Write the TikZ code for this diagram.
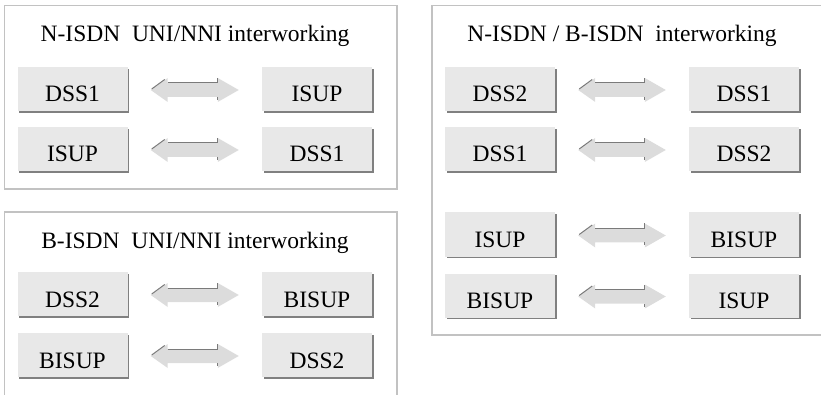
\documentclass[tikz,border=0pt]{standalone}
\usepackage{fontspec}
\setmainfont{Liberation Serif}
\usetikzlibrary{calc,shadows}
\definecolor{framegray}{HTML}{C2C2C2}
\definecolor{boxfill}{HTML}{E8E8E8}
\definecolor{boxshadow}{HTML}{808080}
\definecolor{arrowfill}{HTML}{DCDCDC}
\definecolor{arrowdark}{HTML}{7A7A7A}
\tikzset{
  frameline/.style={draw=framegray, line width=1.1pt},
  protobox/.style={rectangle, fill=boxfill, minimum width=110pt, minimum height=44pt,
     inner sep=0pt, text height=28pt, text depth=2pt,
     font=\fontsize{23.5}{27}\selectfont,
     drop shadow={shadow xshift=1.8pt, shadow yshift=-1.8pt, fill=boxshadow, opacity=1}},
  titletext/.style={anchor=base, inner sep=0pt, font=\fontsize{23.5}{27}\selectfont},
  arrfill/.style={fill=arrowfill},
  arrdark/.style={draw=arrowdark, line width=1pt}
}
\newcommand\dblarr[2]{%
  \coordinate (L) at ($(#1.east)+(23,1)$);
  \coordinate (R) at ($(#2.west)+(-23,1)$);
  \fill[arrfill] (L) -- ++(17,-12) -- ++(0,5) -- ($(R)+(-21,-7)$) -- ++(0,-5) -- (R)
     -- ++(-21,12) -- ++(0,-5) -- ($(L)+(17,7)$) -- ++(0,5) -- cycle;
  \draw[arrdark] ($(L)+(1,-1)$) -- ++(13,-9.5);
  \draw[arrdark] ($(L)+(17,-7)$) -- ($(R)+(-21,-7)$) -- ++(0,-5);
  \draw[arrdark] ($(R)+(-21,7)$) -- ++(0,3);
}
\begin{document}
\begin{tikzpicture}[x=1pt,y=-1pt]
\useasboundingbox (0,0) rectangle (821,395);
\clip (0,0) rectangle (821,395);
% frames
\draw[frameline] (4.5,5.5) rectangle (397,189);
\draw[frameline] (4.5,212) rectangle (397,405);
\draw[frameline] (432,5.5) rectangle (835,335);
% titles
\node[titletext] (t1) at (195,42) {N-ISDN~~UNI/NNI interworking};
\node[titletext] (t2) at (195,248) {B-ISDN~~UNI/NNI interworking};
\node[titletext] (t3) at (622,42) {N-ISDN / B-ISDN~~interworking};
% frame 1
\node[protobox] (a1) at (72.5,89) {DSS1};
\node[protobox] (b1) at (317,89) {ISUP};
\node[protobox] (a2) at (72.5,149) {ISUP};
\node[protobox] (b2) at (317,149) {DSS1};
% frame 2
\node[protobox] (c1) at (72.5,294) {DSS2};
\node[protobox] (d1) at (317,294) {BISUP};
\node[protobox] (c2) at (72.5,355) {BISUP};
\node[protobox] (d2) at (317,355) {DSS2};
% frame 3
\node[protobox] (e1) at (500,89) {DSS2};
\node[protobox] (f1) at (744,89) {DSS1};
\node[protobox] (e2) at (500,149) {DSS1};
\node[protobox] (f2) at (744,149) {DSS2};
\node[protobox] (e3) at (500,234.5) {ISUP};
\node[protobox] (f3) at (744,234.5) {BISUP};
\node[protobox] (e4) at (500,295.5) {BISUP};
\node[protobox] (f4) at (744,295.5) {ISUP};
% arrows
\dblarr{a1}{b1}
\dblarr{a2}{b2}
\dblarr{c1}{d1}
\dblarr{c2}{d2}
\dblarr{e1}{f1}
\dblarr{e2}{f2}
\dblarr{e3}{f3}
\dblarr{e4}{f4}
\end{tikzpicture}
\end{document}
